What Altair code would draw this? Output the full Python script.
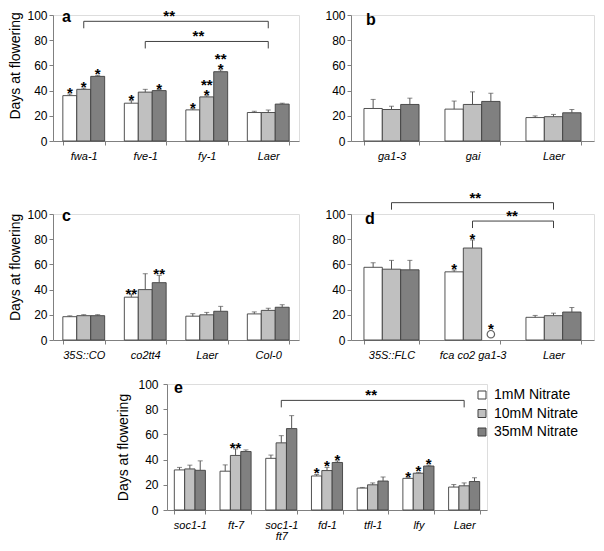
import altair as alt
import pandas as pd
import numpy as np

FONT = "Liberation Sans"
SERIES = ["1mM Nitrate", "10mM Nitrate", "35mM Nitrate"]
FILLS = ["#ffffff", "#c0c0c0", "#808080"]
YTICKS = [0, 20, 40, 60, 80, 100]
AX = "#808080"
OUT = "#404040"
ERRC = "#555555"

# ---------------- panel a ----------------
a_cats = ["fwa-1", "fve-1", "fy-1", "Laer"]
a_v1 = [36.0, 30.0, 24.7, 22.6]
a_v10 = [41.0, 38.8, 35.0, 22.6]
a_v35 = [51.3, 40.0, 55.0, 29.3]
a_e1 = [1.3, 2.0, 1.0, 1.0]
a_e10 = [1.0, 2.2, 0.9, 2.0]
a_e35 = [0.8, 0.8, 1.5, 0.7]
a_star_cat = ["fwa-1", "fwa-1", "fwa-1", "fve-1", "fve-1", "fy-1", "fy-1", "fy-1", "fy-1", "fy-1"]
a_star_ser = [0, 1, 2, 0, 2, 0, 1, 1, 2, 2]
a_star_txt = ["*", "*", "*", "*", "*", "*", "*", "**", "*", "**"]
a_star_lvl = [0, 0, 0, 0, 0, 0, 0, 1, 0, 1]
a_br_from = ["fwa-1", "fve-1"]
a_br_to = ["Laer", "Laer"]
a_br_y = [95, 79]
a_br_txt = ["**", "**"]
a_br_lab_cat = ["fve-1", "fy-1"]
a_br_lab_band = [1.0, 0.3]
a_br_lab_dx = [3, 0]

# ---------------- panel b ----------------
b_cats = ["ga1-3", "gai", "Laer"]
b_v1 = [25.8, 25.3, 18.6]
b_v10 = [25.0, 29.0, 19.3]
b_v35 = [29.0, 31.4, 22.4]
b_e1 = [7.2, 6.4, 1.3]
b_e10 = [2.6, 10.0, 1.8]
b_e35 = [5.0, 6.5, 2.6]

# ---------------- panel c ----------------
c_cats = ["35S::CO", "co2tt4", "Laer", "Col-0"]
c_v1 = [18.5, 34.0, 18.9, 20.7]
c_v10 = [19.3, 40.0, 20.0, 23.5]
c_v35 = [19.3, 45.5, 22.8, 26.0]
c_e1 = [0.7, 2.0, 2.0, 1.6]
c_e10 = [0.8, 12.6, 1.9, 1.7]
c_e35 = [0.8, 5.8, 3.9, 2.0]
c_star_cat = ["co2tt4", "co2tt4"]
c_star_ser = [0, 2]
c_star_txt = ["**", "**"]
c_star_lvl = [0, 0]

# ---------------- panel d ----------------
d_cats = ["35S::FLC", "fca co2 ga1-3", "Laer"]
d_v1 = [57.7, 54.1, 18.0]
d_v10 = [56.2, 73.0, 19.3]
d_v35 = [55.7, None, 22.2]
d_e1 = [3.6, 1.5, 1.5]
d_e10 = [7.0, 6.4, 2.0]
d_e35 = [7.5, None, 3.6]
d_circ_cat = ["fca co2 ga1-3"]
d_circ_ser = [2]
d_circ_val = [4.6]
d_star_cat = ["fca co2 ga1-3", "fca co2 ga1-3", "fca co2 ga1-3"]
d_star_ser = [0, 1, 2]
d_star_txt = ["*", "*", "*"]
d_star_lvl = [0, 0, 0]
d_br_from = ["35S::FLC", "fca co2 ga1-3"]
d_br_to = ["Laer", "Laer"]
d_br_y = [109, 94.4]
d_br_txt = ["**", "**"]
d_br_lab_cat = ["fca co2 ga1-3", "fca co2 ga1-3"]
d_br_lab_band = [0.55, 1.0]
d_br_lab_dx = [0, 12]

# ---------------- panel e ----------------
e_cats = ["soc1-1", "ft-7", "soc1-1 ft7", "fd-1", "tfl-1", "lfy", "Laer"]
e_v1 = [31.8, 30.8, 41.0, 27.0, 17.4, 25.1, 18.2]
e_v10 = [32.6, 43.3, 53.3, 31.3, 20.0, 29.2, 19.2]
e_v35 = [31.5, 46.4, 64.6, 37.7, 23.0, 34.9, 22.6]
e_e1 = [2.0, 5.0, 2.6, 1.2, 0.5, 0.5, 2.0]
e_e10 = [3.0, 5.2, 5.7, 2.5, 1.5, 0.6, 2.3]
e_e35 = [7.5, 1.3, 10.3, 1.3, 3.2, 0.7, 3.0]
e_star_cat = ["ft-7", "fd-1", "fd-1", "fd-1", "lfy", "lfy", "lfy"]
e_star_ser = [1, 0, 1, 2, 0, 1, 2]
e_star_txt = ["**", "*", "*", "*", "*", "*", "*"]
e_star_lvl = [0, 0, 0, 0, 0, 0, 0]
e_br_from = ["soc1-1 ft7"]
e_br_to = ["Laer"]
e_br_y = [87]
e_br_txt = ["**"]
e_br_lab_cat = ["tfl-1"]
e_br_lab_band = [0.45]
e_br_lab_dx = [0]

# layout (pixels)
H1, H2, H3 = 126, 126, 126
WA, WB, WE = 246, 243, 320
DROP_PX = 7


def make_panel(cats, vals, errs, W, H, letter, lx, ly, ytitle=None, title_y=None,
               title_pad=4, label_pad=2, stars=None, brackets=None, circles=None,
               legend=None, label_expr=None):
    rows = []
    for si, s in enumerate(SERIES):
        for ci, c in enumerate(cats):
            v = vals[si][ci]
            if v is None:
                continue
            rows.append(dict(cat=c, series=s, val=v, top=v + errs[si][ci]))
    bars = pd.DataFrame(rows)

    xscale = alt.Scale(paddingInner=0.32, paddingOuter=0.16)
    xkw = dict(title=None, labelAngle=0, tickBand="extent", tickSize=4, labelPadding=5,
               labelFontSize=11, labelFontStyle="italic", labelFont=FONT, labelColor="black",
               domainColor=AX, tickColor=AX, labelLineHeight=11)
    if label_expr:
        xkw["labelExpr"] = label_expr
    xaxis = alt.Axis(**xkw)
    yscale = alt.Scale(domain=[0, 100])
    ykw = dict(values=YTICKS, grid=False, tickSize=4, labelPadding=label_pad, labelFontSize=12,
               labelFont=FONT, labelColor="black", domainColor=AX, tickColor=AX)
    if ytitle:
        ykw.update(title=ytitle, titleFont=FONT, titleFontSize=14, titleFontWeight="normal",
                   titleColor="black", titlePadding=title_pad)
        if title_y is not None:
            ykw["titleY"] = title_y
    else:
        ykw["title"] = None
    yaxis = alt.Axis(**ykw)

    def X(field="cat", **kw):
        return alt.X(f"{field}:N", sort=cats, scale=xscale, axis=xaxis, **kw)

    def Y(field):
        return alt.Y(f"{field}:Q", scale=yscale, axis=yaxis)

    XO = alt.XOffset("series:N", sort=SERIES, scale=alt.Scale(paddingInner=0, paddingOuter=0))

    layers = []
    layers.append(
        alt.Chart(bars).mark_bar(stroke=OUT, strokeWidth=0.9).encode(
            x=X(), xOffset=XO, y=Y("val"),
            color=alt.Color("series:N", sort=SERIES,
                            scale=alt.Scale(domain=SERIES, range=FILLS),
                            legend=legend)
        )
    )
    layers.append(
        alt.Chart(bars).mark_rule(color=ERRC, strokeWidth=1).encode(
            x=X(), xOffset=XO, y=Y("val"), y2=alt.Y2("top:Q")
        )
    )
    layers.append(
        alt.Chart(bars).mark_tick(color=ERRC, thickness=1, size=5).encode(
            x=X(), xOffset=XO, y=Y("top")
        )
    )

    circ_lookup = {}
    if circles:
        cc, cs, cv = circles
        cdf = pd.DataFrame(dict(cat=cc, series=[SERIES[i] for i in cs], val=cv))
        for c, s, v in zip(cc, cs, cv):
            circ_lookup[(c, s)] = v
        layers.append(
            alt.Chart(cdf).mark_point(shape="circle", filled=False, size=55,
                                      color="#202020", strokeWidth=1.2).encode(
                x=X(), xOffset=XO, y=Y("val")
            )
        )

    if stars:
        sc, ss, st, sl = stars
        srows = []
        for c, s, t, l in zip(sc, ss, st, sl):
            ci = cats.index(c)
            v = vals[s][ci]
            if v is None:
                top = circ_lookup[(c, s)] + 3
            else:
                top = v + errs[s][ci]
            srows.append(dict(cat=c, series=SERIES[s], txt=t, lvl=l, top=top))
        sdf = pd.DataFrame(srows)
        for lvl, dy in [(0, 4), (1, -6)]:
            if (sdf["lvl"] == lvl).any():
                layers.append(
                    alt.Chart(sdf).transform_filter(f"datum.lvl == {lvl}").mark_text(
                        font=FONT, fontSize=15, fontWeight="bold", baseline="alphabetic",
                        dy=dy, color="black").encode(
                        x=X(), xOffset=XO, y=Y("top"), text="txt:N"
                    )
                )

    if brackets:
        bf, bt, by, btxt, blc, blb, bdx = brackets
        drop = DROP_PX / H * 100
        lrows = []
        for i, (f, t, yv) in enumerate(zip(bf, bt, by)):
            lrows += [dict(bid=i, ord=0, cat=f, y=yv - drop),
                      dict(bid=i, ord=1, cat=f, y=yv),
                      dict(bid=i, ord=2, cat=t, y=yv),
                      dict(bid=i, ord=3, cat=t, y=yv - drop)]
        ldf = pd.DataFrame(lrows)
        layers.append(
            alt.Chart(ldf).mark_line(color="#404040", strokeWidth=1).encode(
                x=X(), y=Y("y"), detail="bid:N", order="ord:Q"
            )
        )
        for yv, tx, lc, lb, ddx in zip(by, btxt, blc, blb, bdx):
            tdf = pd.DataFrame(dict(cat=[lc], y=[yv], txt=[tx]))
            layers.append(
                alt.Chart(tdf).mark_text(font=FONT, fontSize=15, fontWeight="bold",
                                         baseline="alphabetic", color="black", dx=ddx).encode(
                    x=X(bandPosition=lb), y=Y("y"), text="txt:N"
                )
            )

    layers.append(
        alt.Chart(pd.DataFrame(dict(t=[letter]))).mark_text(
            font=FONT, fontSize=16, fontWeight="bold", align="left",
            baseline="alphabetic", color="black").encode(
            x=alt.value(lx), y=alt.value(ly), text="t:N"
        )
    )
    return alt.layer(*layers).properties(width=W, height=H)


YT = "Days at flowering"

pa = make_panel(a_cats, [a_v1, a_v10, a_v35], [a_e1, a_e10, a_e35], WA, H1, "a", 9, 7,
                ytitle=YT, title_y=0.4 * H1,
                stars=(a_star_cat, a_star_ser, a_star_txt, a_star_lvl),
                brackets=(a_br_from, a_br_to, a_br_y, a_br_txt, a_br_lab_cat, a_br_lab_band,
                          a_br_lab_dx))
pb = make_panel(b_cats, [b_v1, b_v10, b_v35], [b_e1, b_e10, b_e35], WB, H1, "b", 15, 10)
pc = make_panel(c_cats, [c_v1, c_v10, c_v35], [c_e1, c_e10, c_e35], WA, H2, "c", 9, 7,
                ytitle=YT, title_y=0.42 * H2,
                stars=(c_star_cat, c_star_ser, c_star_txt, c_star_lvl))
pd_ = make_panel(d_cats, [d_v1, d_v10, d_v35], [d_e1, d_e10, d_e35], WB, H2, "d", 14, 10,
                 stars=(d_star_cat, d_star_ser, d_star_txt, d_star_lvl),
                 brackets=(d_br_from, d_br_to, d_br_y, d_br_txt, d_br_lab_cat, d_br_lab_band,
                           d_br_lab_dx),
                 circles=(d_circ_cat, d_circ_ser, d_circ_val))
legend_e = alt.Legend(title=None, orient="none", legendX=308, legendY=4, symbolType="square",
                      symbolSize=64, symbolStrokeColor="#404040", symbolStrokeWidth=1,
                      symbolOpacity=1, labelFont=FONT, labelFontSize=14, labelColor="black",
                      rowPadding=4.5, labelOffset=5, labelLimit=0, padding=0)
pe = make_panel(e_cats, [e_v1, e_v10, e_v35], [e_e1, e_e10, e_e35], WE, H3, "e", 7, 9,
                ytitle=YT, title_pad=7, label_pad=5,
                stars=(e_star_cat, e_star_ser, e_star_txt, e_star_lvl),
                brackets=(e_br_from, e_br_to, e_br_y, e_br_txt, e_br_lab_cat, e_br_lab_band,
                          e_br_lab_dx),
                legend=legend_e,
                label_expr="datum.label == 'soc1-1 ft7' ? ['soc1-1', 'ft7'] : datum.label")

spacer = alt.Chart(pd.DataFrame(dict(z=[0]))).mark_point(opacity=0, size=1).encode(
    x=alt.value(0), y=alt.value(0)).properties(
    width=114, height=1, view=alt.ViewBackground(strokeOpacity=0, fillOpacity=0))


def ind(ch):
    return ch.resolve_scale(color="independent", xOffset="independent").resolve_legend(
        color="independent")


ALIGN = alt.RowColLayoutAlign(row="none", column="each")

row1 = ind(alt.hconcat(pa, pb, spacing=52, bounds="flush"))
row2 = ind(alt.hconcat(pc, pd_, spacing=52, bounds="flush"))
row3 = ind(alt.hconcat(spacer, pe, spacing=0, bounds="flush"))
top = ind(alt.concat(row1, row2, columns=1, align=ALIGN,
                     spacing=alt.RowColnumber(row=28, column=0)))
chart = ind(alt.concat(top, row3, columns=1, align=ALIGN,
                       spacing=alt.RowColnumber(row=16, column=0))).properties(
    padding=0, background="white"
).configure_view(stroke=None).configure(font=FONT)

chart.save("out.html", embed_options={"renderer": "svg", "actions": False})
